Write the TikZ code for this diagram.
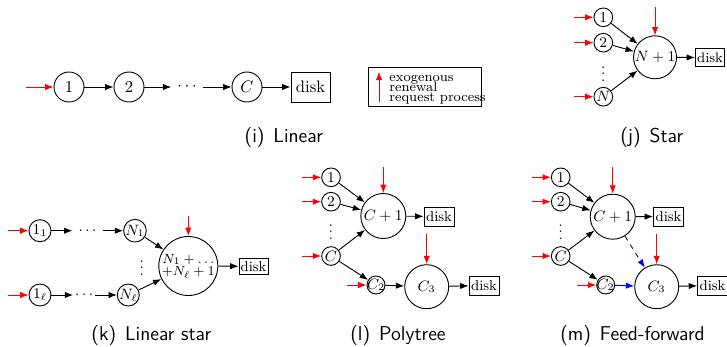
\documentclass[tikz,border=0pt]{standalone}
\usetikzlibrary{arrows.meta}
\begin{document}
\begin{tikzpicture}[x=0.6pt,y=-0.6pt,line width=0.55pt,
  >={Latex[length=5pt,width=3.8pt]},
  state/.style={circle,draw,inner sep=0pt,minimum size=#1},
  diskbox/.style={draw,inner sep=1pt},
  ext/.style={->,red},
  link/.style={->},
  vdotsnode/.style={inner sep=0pt},
  subcaption/.style={anchor=base,inner sep=0pt,font=\sffamily\fontsize{12}{14}\selectfont},
  legtext/.style={anchor=base west,inner sep=0pt,font=\fontsize{8.2}{8}\selectfont}]
\useasboundingbox (0,0) rectangle (727,346);

% ---------- (i) Linear ----------
\begin{scope}[font=\fontsize{10}{12}\selectfont]
\node[state=18pt] (a1) at (69,87) {$1$};
\node[state=18pt] (a2) at (129,87) {$2$};
\node (adots) at (187,87) {$\cdots$};
\node[state=18pt] (aC) at (247,87) {$C$};
\node[diskbox,minimum width=23.4pt,minimum height=18pt] (adisk) at (310.5,87) {disk};
\coordinate (ain) at (26,87);
\draw[ext] (ain) -- (a1);
\draw[link] (a1) -- (a2);
\draw[link] (a2) -- (adots);
\draw[link] (adots) -- (aC);
\draw[link] (aC) -- (adisk);
\end{scope}
\node[subcaption] (capi) at (283.8,142) {(i)\hspace{0.45em}Linear};

% ---------- legend ----------
\node[draw,minimum width=67.8pt,minimum height=23.4pt,inner sep=0pt] (leg) at (424.5,86.5) {};
\coordinate (legbot) at (379,102);
\coordinate (legtop) at (379,71.7);
\draw[ext] (legbot) -- (legtop);
\node[legtext] (leg1) at (389,81.5) {exogenous};
\node[legtext] (leg2) at (389,91.5) {renewal};
\node[legtext] (leg3) at (389,101.5) {request process};

% ---------- (j) Star ----------
\begin{scope}[font=\fontsize{9}{11}\selectfont]
\node[state=11.2pt] (b1) at (603.3,17.3) {$1$};
\node[state=11.2pt] (b2) at (603.3,42.7) {$2$};
\node[vdotsnode] (bvd) at (603.3,69) {$\vdots$};
\node[state=11.2pt] (bN) at (603.3,96.7) {$N$};
\node[state=25.8pt] (bbig) at (655,57.3) {$N+1$};
\node[diskbox,minimum width=16.8pt,minimum height=11pt,font=\fontsize{8.3}{10}\selectfont] (bdisk) at (710,57.5) {disk};
\coordinate (bin1) at (574,17.3);
\coordinate (bin2) at (574,42.7);
\coordinate (binN) at (574,96.7);
\coordinate (bintop) at (655,7);
\draw[ext] (bin1) -- (b1);
\draw[ext] (bin2) -- (b2);
\draw[ext] (binN) -- (bN);
\draw[ext] (bintop) -- (bbig);
\draw[link] (b1) -- (bbig);
\draw[link] (b2) -- (bbig);
\draw[link] (bN) -- (bbig);
\draw[link] (bbig) -- (bdisk);
\end{scope}
\node[subcaption] (capj) at (651.7,142) {(j)\hspace{0.45em}Star};

% ---------- (k) Linear star ----------
\begin{scope}[font=\fontsize{9}{11}\selectfont]
\node[state=13.2pt] (c11) at (40,230.7) {$1_1$};
\node (cd1) at (87.5,230.7) {$\cdots$};
\node[state=13.2pt] (cN1) at (135,230.7) {$N_1$};
\node[state=13.2pt] (c1l) at (40,295) {$1_\ell$};
\node[inner xsep=1pt] (cdl) at (84.2,295) {$\cdots$};
\node[state=13.2pt] (cNl) at (128.3,295) {$N_\ell$};
\node[vdotsnode] (cvd) at (141.7,263) {$\vdots$};
\node[state=35.4pt,align=center,font=\fontsize{8}{6.4}\selectfont] (cbig) at (188.3,266) {$N_1+\ldots$\\$+N_\ell+1$};
\node[diskbox,minimum width=17.4pt,minimum height=9.6pt,font=\fontsize{8.5}{10}\selectfont] (cdisk) at (253.5,266.3) {disk};
\coordinate (cin1) at (8,230.7);
\coordinate (cinl) at (8,295);
\coordinate (cintop) at (188.3,216);
\draw[ext] (cin1) -- (c11);
\draw[ext] (cinl) -- (c1l);
\draw[ext] (cintop) -- (cbig);
\draw[link] (c11) -- (cd1);
\draw[link] (cd1) -- (cN1);
\draw[link] (c1l) -- (cdl);
\draw[link] (cdl) -- (cNl);
\draw[link] (cN1) -- (cbig);
\draw[link] (cNl) -- (cbig);
\draw[link] (cbig) -- (cdisk);
\end{scope}
\node[subcaption] (capk) at (151.3,340.7) {(k)\hspace{0.45em}Linear star};

% ---------- (l) Polytree ----------
\begin{scope}[font=\fontsize{8.6}{10}\selectfont]
\node[state=11.2pt] (d1) at (331,177.3) {$1$};
\node[state=11.2pt] (d2) at (331,201.7) {$2$};
\node[vdotsnode] (dvd) at (331,227) {$\vdots$};
\node[state=11.2pt] (dC) at (331,256) {$C$};
\node[state=27pt] (dC1) at (383.3,216) {$C+1$};
\node[diskbox,minimum width=18pt,minimum height=11.4pt] (dk1) at (439,216.5) {disk};
\node[state=10.8pt,label={center:$C_2$}] (dC2) at (376,285) {};
\node[state=26.4pt] (dC3) at (426.7,286.7) {$C_3$};
\node[diskbox,minimum width=18pt,minimum height=11.4pt] (dk2) at (484,285.5) {disk};
\coordinate (din1) at (302,177.3);
\coordinate (din2) at (302,201.7);
\coordinate (dinC) at (302,256);
\coordinate (dinC2) at (347,285);
\coordinate (dtop1) at (383.3,167);
\coordinate (dtop3) at (426.7,234);
\draw[ext] (din1) -- (d1);
\draw[ext] (din2) -- (d2);
\draw[ext] (dinC) -- (dC);
\draw[ext] (dinC2) -- (dC2);
\draw[ext] (dtop1) -- (dC1);
\draw[ext] (dtop3) -- (dC3);
\draw[link] (d1) -- (dC1);
\draw[link] (d2) -- (dC1);
\draw[link] (dC) -- (dC1);
\draw[link] (dC) -- (dC2);
\draw[link] (dC1) -- (dk1);
\draw[link] (dC2) -- (dC3);
\draw[link] (dC3) -- (dk2);
\end{scope}
\node[subcaption] (capl) at (398,340.7) {(l)\hspace{0.45em}Polytree};

% ---------- (m) Feed-forward ----------
\begin{scope}[font=\fontsize{8.6}{10}\selectfont]
\node[state=11.2pt] (e1) at (560.7,177.3) {$1$};
\node[state=11.2pt] (e2) at (560.7,201.7) {$2$};
\node[vdotsnode] (evd) at (560.7,227) {$\vdots$};
\node[state=11.2pt] (eC) at (560.7,256) {$C$};
\node[state=27pt] (eC1) at (612.7,216.7) {$C+1$};
\node[diskbox,minimum width=18pt,minimum height=11.4pt] (ek1) at (668.5,216.5) {disk};
\node[state=10.8pt,label={center:$C_2$}] (eC2) at (605.7,285) {};
\node[state=26.4pt] (eC3) at (656.7,286.7) {$C_3$};
\node[diskbox,minimum width=18pt,minimum height=11.4pt] (ek2) at (712.5,285.5) {disk};
\coordinate (ein1) at (531.7,177.3);
\coordinate (ein2) at (531.7,201.7);
\coordinate (einC) at (531.7,256);
\coordinate (einC2) at (576.7,285);
\coordinate (etop1) at (612.7,167);
\coordinate (etop3) at (656.7,234);
\draw[ext] (ein1) -- (e1);
\draw[ext] (ein2) -- (e2);
\draw[ext] (einC) -- (eC);
\draw[ext] (einC2) -- (eC2);
\draw[ext] (etop1) -- (eC1);
\draw[ext] (etop3) -- (eC3);
\draw[link] (e1) -- (eC1);
\draw[link] (e2) -- (eC1);
\draw[link] (eC) -- (eC1);
\draw[link] (eC) -- (eC2);
\draw[link] (eC1) -- (ek1);
\draw[link,blue] (eC2) -- (eC3);
\draw[link,blue,dashed] (eC1) -- (eC3);
\draw[link] (eC3) -- (ek2);
\end{scope}
\node[subcaption] (capm) at (632.5,340.7) {(m)\hspace{0.45em}Feed-forward};
\end{tikzpicture}
\end{document}
